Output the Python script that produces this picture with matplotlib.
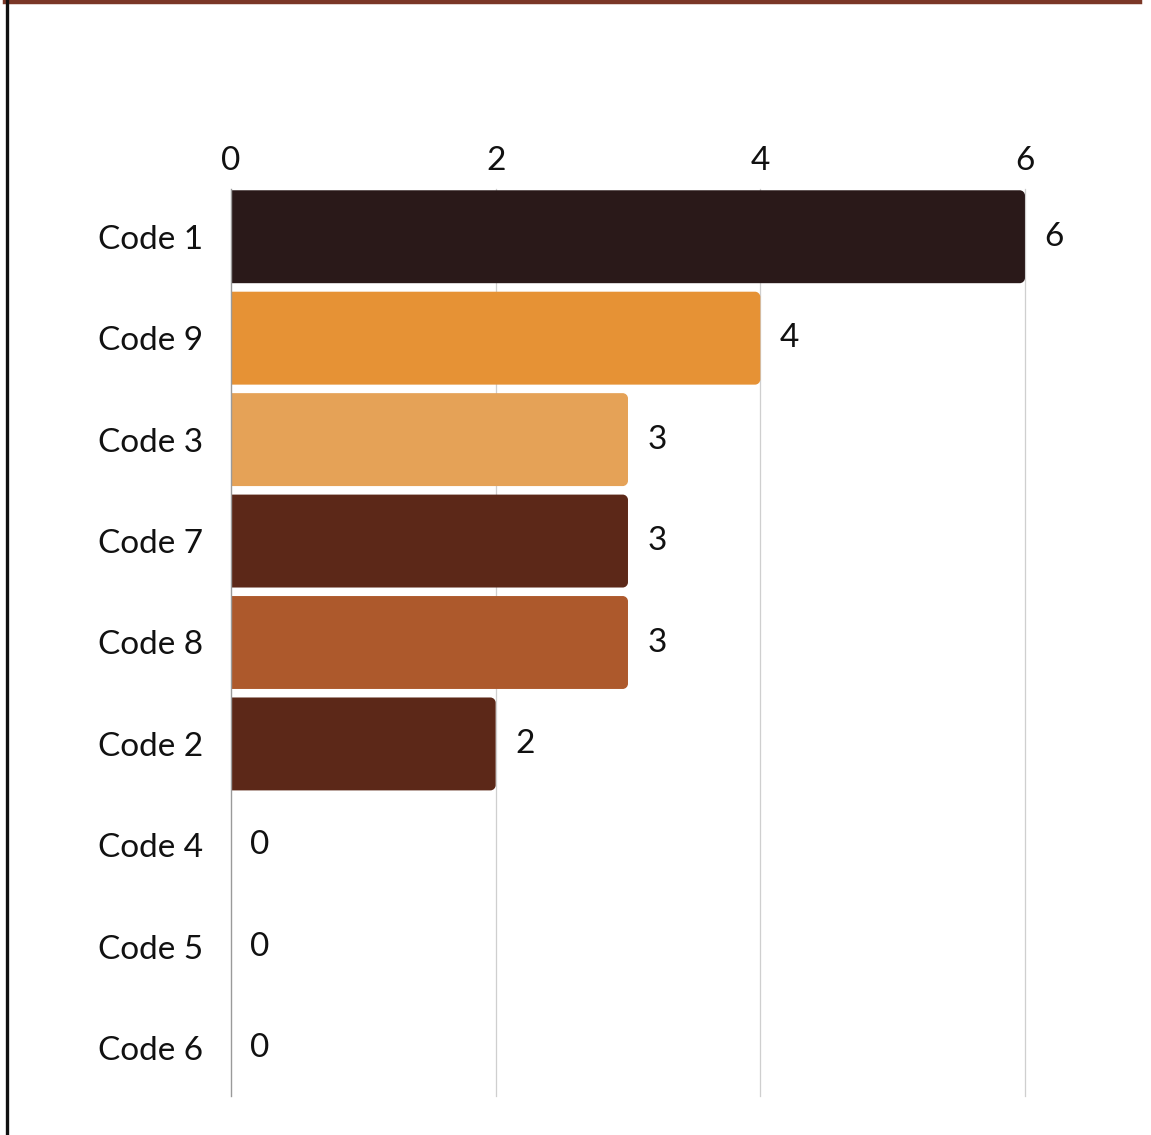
import numpy as np
import matplotlib.pyplot as plt
from matplotlib.patches import PathPatch
from matplotlib.path import Path
from matplotlib.lines import Line2D

codes = ["Code 1", "Code 9", "Code 3", "Code 7", "Code 8", "Code 2", "Code 4", "Code 5", "Code 6"]
counts = [6, 4, 3, 3, 3, 2, 0, 0, 0]
colors = ["#2a1919", "#e69235", "#e5a257", "#5c2818", "#ad592c", "#5c2818",
          "#5c2818", "#5c2818", "#5c2818"]
xticks = [0, 2, 4, 6]

plt.rcParams['font.family'] = ['Lato', 'DejaVu Sans']


def right_round_bar(x0, y0, w, hgt, rx, ry):
    # rectangle with the two right corners rounded (cubic bezier quarter arcs)
    k = 0.5523
    x1 = x0 + w
    y1 = y0 + hgt
    verts = [(x0, y0), (x1 - rx, y0),
             (x1 - rx + k * rx, y0), (x1, y0 + ry - k * ry), (x1, y0 + ry),
             (x1, y1 - ry),
             (x1, y1 - ry + k * ry), (x1 - rx + k * rx, y1), (x1 - rx, y1),
             (x0, y1), (x0, y0)]
    codes_ = [Path.MOVETO, Path.LINETO,
              Path.CURVE4, Path.CURVE4, Path.CURVE4,
              Path.LINETO,
              Path.CURVE4, Path.CURVE4, Path.CURVE4,
              Path.LINETO, Path.CLOSEPOLY]
    return Path(verts, codes_)


fig = plt.figure(figsize=(11.51, 11.35), dpi=100)
ax = fig.add_axes([0.2007, 1 - 1099 / 1135, 0.6898, 913 / 1135])

ypos = np.arange(len(codes))
h = 0.916
ax.set_xlim(0, 6)
ax.set_ylim(len(codes) - 0.5, -0.5)

for y, v, c in zip(ypos, counts, colors):
    if v <= 0:
        continue
    path = right_round_bar(0, y - h / 2, v, h, 0.04, 0.052)
    ax.add_patch(PathPatch(path, facecolor=c, edgecolor='none', zorder=3))

for y, v in zip(ypos, counts):
    ax.annotate(str(v), (v, y), xytext=(14, 0), textcoords='offset points',
                ha='left', va='center', fontsize=24, color='#111111')

ax.xaxis.tick_top()
ax.set_xticks(xticks)
ax.set_xticklabels([str(t) for t in xticks])
ax.set_yticks(ypos)
ax.set_yticklabels(codes)
ax.tick_params(axis='x', length=0, pad=7, labelsize=24, colors='#111111')
ax.tick_params(axis='y', length=0, pad=20, labelsize=24, colors='#111111')

g0 = 3 / 913
g1 = 1 - 3 / 913
for t in xticks[1:]:
    ax.axvline(t, ymin=g0, ymax=g1, color='#cfcfcf', linewidth=0.9, zorder=1, clip_on=False)
ax.axvline(0, ymin=g0, ymax=g1, color='#9a9a9a', linewidth=1.0, zorder=4, clip_on=False)
for s in ax.spines.values():
    s.set_visible(False)

# page borders
fig.add_artist(Line2D([5 / 1151, 1140 / 1151], [1 - 2 / 1135, 1 - 2 / 1135],
                      color='#7b3727', linewidth=3.2, transform=fig.transFigure))
fig.add_artist(Line2D([6.5 / 1151, 6.5 / 1151], [0, 1],
                      color='#111111', linewidth=2.4, transform=fig.transFigure))

fig.savefig("out.png", dpi=100)
